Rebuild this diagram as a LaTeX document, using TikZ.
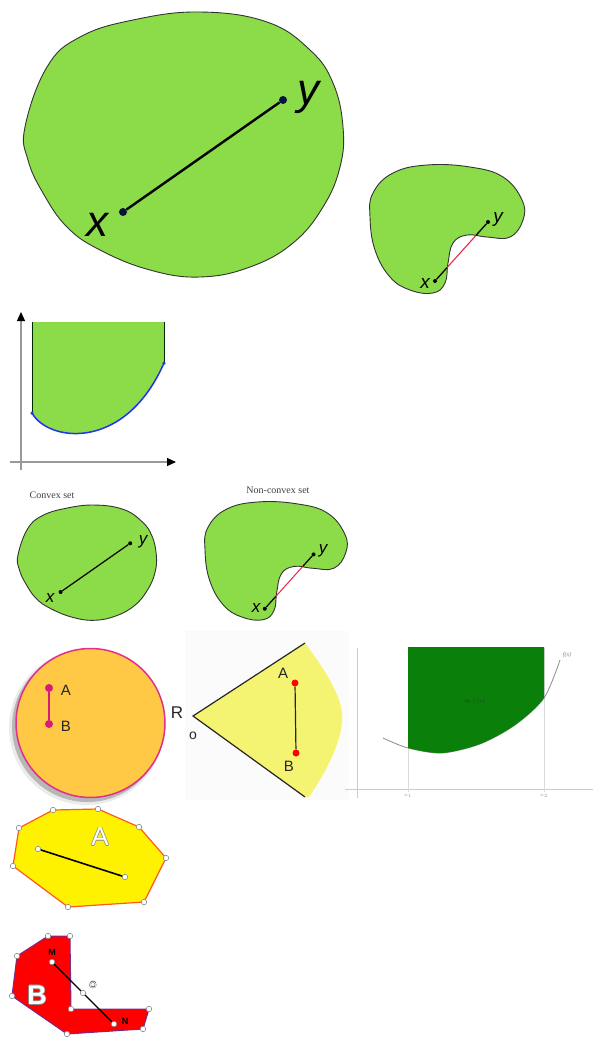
\documentclass[tikz,border=0pt]{standalone}
\usepackage{fontspec}
\setmainfont{Liberation Sans}
\newfontfamily\timesf{Liberation Serif}
\usetikzlibrary{arrows.meta,calc}
\definecolor{setgreen}{HTML}{8BDC48}
\definecolor{segred}{HTML}{E8264A}
\definecolor{dotnavy}{HTML}{0A1240}
\definecolor{circfill}{HTML}{FFC845}
\definecolor{circedge}{HTML}{E0308A}
\definecolor{abmag}{HTML}{D81B7A}
\definecolor{conefill}{HTML}{F4F472}
\definecolor{epigreen}{HTML}{0A800A}
\definecolor{polyedge}{HTML}{FF5A1E}
\definecolor{ledge}{HTML}{7A2A8A}
\definecolor{epiblue}{HTML}{2233EE}
\newcommand\outlinetext[3]{%
 \makebox[0pt][l]{\textcolor{#1}{\hspace*{#3}#2}}%
 \makebox[0pt][l]{\textcolor{#1}{\hspace*{-#3}#2}}%
 \makebox[0pt][l]{\textcolor{#1}{\raisebox{#3}{#2}}}%
 \makebox[0pt][l]{\textcolor{#1}{\raisebox{-#3}{#2}}}%
 \textcolor{white}{#2}}
\tikzset{
 setfill/.style={fill=setgreen, draw=black!80, line width=0.9pt},
 bigdot/.style={circle, fill=dotnavy, inner sep=0pt, minimum size=8pt},
 smalldot/.style={circle, fill=black, inner sep=0pt, minimum size=4pt},
 vtx/.style={circle, draw=black!45, fill=white, inner sep=0pt, minimum size=5.5pt, line width=0.6pt},
 lbl/.style={inner sep=0pt},
 axisarrow/.style={draw=gray!80, line width=1.2pt, -{Triangle[length=9pt,width=8pt,color=black]}},
}
\begin{document}
\begin{tikzpicture}[x=1pt,y=-1pt]
\useasboundingbox (0,0) rectangle (594,1037);
\fill[white] (0,0) rectangle (594,1037);

% ---------- big convex blob ----------
\path[setfill] plot[smooth cycle, tension=0.7] coordinates {(25,127) (28,160) (43,193) (67,227) (100,250) (150,270) (200,277) (250,267) (293,243) (323,207) (340,167) (343,127) (333,83) (310,50) (267,22) (200,12) (133,20) (80,37) (47,67)};
\node[bigdot] (bx) at (123,212) {};
\node[bigdot] (by) at (283,100) {};
\draw[line width=2.4pt] (bx) -- (by);
\node[lbl, font=\fontsize{44}{44}\selectfont\itshape] (bxl) at (97,225) {x};
\node[lbl, font=\fontsize{44}{44}\selectfont\itshape] (byl) at (308,97) {y};

% ---------- small non-convex blob ----------
\path[setfill] plot[smooth cycle, tension=0.7] coordinates {(373,193) (370,217) (375,250) (390,277) (410,290) (433,293) (445,283) (448,263) (453,243) (467,235) (487,237) (510,237) (523,220) (522,200) (503,177) (470,167) (427,165) (393,173)};
\node[smalldot] (sx) at (435,281) {};
\node[smalldot] (sy) at (488,222) {};
\coordinate (sa) at ($(sx)!0.226!(sy)$);
\coordinate (sb) at ($(sx)!0.774!(sy)$);
\draw[line width=1.3pt] (sx) -- (sa);
\draw[line width=1.3pt] (sb) -- (sy);
\draw[segred, line width=1.1pt] (sa) -- (sb);
\node[lbl, font=\fontsize{19}{19}\selectfont\itshape] (sxl) at (425,283) {x};
\node[lbl, font=\fontsize{19}{19}\selectfont\itshape] (syl) at (498,219) {y};

% ---------- epigraph ----------
\coordinate (e1) at (32,413);
\coordinate (e2) at (164,363);
\fill[setgreen] (32,322) -- (e1) .. controls (48,442) and (125,452) .. (e2) -- (164,322) -- cycle;
\draw[black!60!green!40!black, line width=0.8pt] (32,322) -- (e1);
\draw[black!60!green!40!black, line width=0.8pt] (164,322) -- (e2);
\draw[epiblue, line width=1.5pt] (e1) .. controls (48,442) and (125,452) .. (e2);
\node[circle, fill=epiblue, inner sep=0pt, minimum size=3.5pt] (e1d) at (e1) {};
\node[circle, fill=epiblue, inner sep=0pt, minimum size=3.5pt] (e2d) at (e2) {};
\coordinate (vax0) at (21,470);
\coordinate (vax1) at (21,312);
\coordinate (hax0) at (10,462);
\coordinate (hax1) at (176,462);
\draw[axisarrow] (vax0) -- (vax1);
\draw[axisarrow] (hax0) -- (hax1);

% ---------- convex / non-convex pair ----------
\node[lbl, font=\fontsize{10}{10}\selectfont\timesf, text=black!75] (cap1) at (52,495) {Convex set};
\node[lbl, font=\fontsize{10}{10}\selectfont\timesf, text=black!75] (cap2) at (278,490) {Non-convex set};
\begin{scope}[shift={(7.1,499.8)}, scale=0.435]
\path[setfill] plot[smooth cycle, tension=0.7] coordinates {(25,127) (28,160) (43,193) (67,227) (100,250) (150,270) (200,277) (250,267) (293,243) (323,207) (340,167) (343,127) (333,83) (310,50) (267,22) (200,12) (133,20) (80,37) (47,67)};
\node[smalldot] (cx) at (123,212) {};
\node[smalldot] (cy) at (283,100) {};
\draw[line width=1.2pt] (cx) -- (cy);
\end{scope}
\node[lbl, font=\fontsize{17}{17}\selectfont\itshape] (cxl) at (50,598) {x};
\node[lbl, font=\fontsize{17}{17}\selectfont\itshape] (cyl) at (143,542) {y};
\begin{scope}[shift={(-135.4,350.2)}, scale=0.92]
\path[setfill] plot[smooth cycle, tension=0.7] coordinates {(373,193) (370,217) (375,250) (390,277) (410,290) (433,293) (445,283) (448,263) (453,243) (467,235) (487,237) (510,237) (523,220) (522,200) (503,177) (470,167) (427,165) (393,173)};
\node[smalldot] (nx) at (435,281) {};
\node[smalldot] (ny) at (488,222) {};
\coordinate (na) at ($(nx)!0.226!(ny)$);
\coordinate (nb) at ($(nx)!0.774!(ny)$);
\draw[line width=1.2pt] (nx) -- (na);
\draw[line width=1.2pt] (nb) -- (ny);
\draw[segred, line width=1pt] (na) -- (nb);
\end{scope}
\node[lbl, font=\fontsize{17}{17}\selectfont\itshape] (nxl) at (256,608) {x};
\node[lbl, font=\fontsize{17}{17}\selectfont\itshape] (nyl) at (323,551) {y};

% ---------- orange disc ----------
\fill[black, opacity=0.08] (86.5,727.5) circle (77.5);
\fill[black, opacity=0.22] (87.5,726.5) circle (75.5);
\draw[fill=circfill, draw=circedge, line width=1.5pt] (90.5,723) circle (74.5);
\node[circle, fill=abmag, inner sep=0pt, minimum size=8pt] (oa) at (49,688) {};
\node[circle, fill=abmag, inner sep=0pt, minimum size=8pt] (ob) at (49,724) {};
\draw[abmag, line width=2pt] (oa) -- (ob);
\node[lbl, font=\fontsize{15}{15}\selectfont, text=black!85] (oal) at (66,690) {A};
\node[lbl, font=\fontsize{15}{15}\selectfont, text=black!85] (obl) at (66,726) {B};

% ---------- cone ----------
\fill[black!1.5] (185,631) rectangle (349,800);
\coordinate (apex) at (193,716);
\coordinate (ctop) at (305,643);
\coordinate (cbot) at (305,797);
\fill[conefill] (apex) -- (ctop) .. controls (325,670) and (345,700) .. (342,722) .. controls (340,745) and (326,772) .. (309,797) -- (cbot) -- cycle;
\draw[line width=1.2pt, black!85] (ctop) -- (apex) -- (cbot);
\node[circle, fill=red, inner sep=0pt, minimum size=7pt] (ca) at (295,683) {};
\node[circle, fill=red, inner sep=0pt, minimum size=7pt] (cb) at (296,753) {};
\draw[line width=1.2pt, black!85] (ca) -- (cb);
\node[lbl, font=\fontsize{15}{15}\selectfont, text=black!85] (cal) at (283,673) {A};
\node[lbl, font=\fontsize{15}{15}\selectfont, text=black!85] (cbl) at (289,766) {B};
\node[lbl, font=\fontsize{17}{17}\selectfont, text=black!85] (rl) at (177,713) {R};
\node[lbl, font=\fontsize{14}{14}\selectfont, text=black!85] (ol) at (193,736) {o};

% ---------- epigraph plot (dark green) ----------
\coordinate (gv0) at (357,798);
\coordinate (gv1) at (357,648);
\coordinate (gh0) at (345,789);
\coordinate (gh1) at (593,789);
\draw[black!20, line width=1pt] (gv0) -- (gv1);
\draw[black!20, line width=1pt] (gh0) -- (gh1);
\coordinate (g1a) at (408,648);
\coordinate (g1b) at (408,792);
\coordinate (g2a) at (544,648);
\coordinate (g2b) at (544,792);
\draw[black!15, line width=0.7pt] (g1a) -- (g1b);
\draw[black!15, line width=0.7pt] (g2a) -- (g2b);
\draw[black!45, line width=0.8pt] plot[smooth] coordinates {(383,738) (408,748) (442,753) (480,744) (515,725) (544,698) (560,660)};
\begin{scope}
\clip (408,647) rectangle (544,800);
\fill[epigreen] plot[smooth] coordinates {(383,738) (408,748) (442,753) (480,744) (515,725) (544,698) (560,660)} -- (560,640) -- (383,640) -- cycle;
\end{scope}
\node[lbl, font=\fontsize{5}{5}\selectfont\timesf, text=black!80] (epil) at (475,701) {epi $f(x)$};
\node[lbl, font=\fontsize{6}{6}\selectfont\timesf\itshape, text=black!50] (fxl) at (567,655) {f(x)};
\node[lbl, font=\fontsize{5}{5}\selectfont\timesf, text=black!40] (x1l) at (408,796) {$x_1$};
\node[lbl, font=\fontsize{5}{5}\selectfont\timesf, text=black!40] (x2l) at (544,796) {$x_2$};

% ---------- yellow polygon ----------
\coordinate (p1) at (53,810);
\coordinate (p2) at (98,809);
\coordinate (p3) at (139,827);
\coordinate (p4) at (166,858);
\coordinate (p5) at (144,902);
\coordinate (p6) at (68,907);
\coordinate (p7) at (13,866);
\coordinate (p8) at (19,828);
\draw[fill=yellow, draw=polyedge, line width=1.2pt] (p1) -- (p2) -- (p3) -- (p4) -- (p5) -- (p6) -- (p7) -- (p8) -- cycle;
\foreach \p in {p1,p2,p3,p4,p5,p6,p7,p8} \node[vtx] (v\p) at (\p) {};
\node[vtx] (ys1) at (38,849) {};
\node[vtx] (ys2) at (125,877) {};
\draw[line width=1.6pt] (ys1) -- (ys2);
\node[lbl, font=\fontsize{26}{26}\selectfont] (alabel) at (100,837) {\outlinetext{black!45}{A}{0.8pt}};

% ---------- red L polygon ----------
\coordinate (q1) at (48,936);
\coordinate (q2) at (70,936);
\coordinate (q3) at (71,1009);
\coordinate (q4) at (149,1009);
\coordinate (q5) at (143,1029);
\coordinate (q6) at (67,1034);
\coordinate (q7) at (12,996);
\coordinate (q8) at (17,956);
\draw[fill=red, draw=ledge, line width=1pt] (q1) -- (q2) -- (q3) -- (q4) -- (q5) -- (q6) -- (q7) -- (q8) -- cycle;
\foreach \q in {q1,q2,q3,q4,q5,q6,q7,q8} \node[vtx] (v\q) at (\q) {};
\node[vtx] (lm) at (52,962) {};
\node[vtx] (ln) at (114,1024) {};
\draw[line width=1.2pt] (lm) -- (ln);
\node[vtx] (lo) at ($(lm)!0.5!(ln)$) {};
\node[lbl, font=\fontsize{9}{9}\selectfont\bfseries] (lml) at (52,952) {M};
\node[lbl, font=\fontsize{9}{9}\selectfont\bfseries] (lnl) at (125,1021) {N};
\node[lbl, font=\fontsize{9}{9}\selectfont] (lol) at (93,985) {\outlinetext{black!70}{O}{0.45pt}};
\node[lbl, font=\fontsize{27}{27}\selectfont\bfseries] (blabel) at (37,995) {\outlinetext{black!45}{B}{0.8pt}};
\end{tikzpicture}
\end{document}
